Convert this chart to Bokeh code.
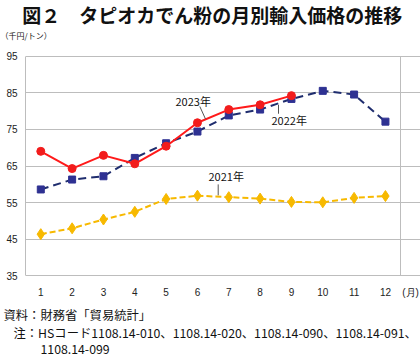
from bokeh.plotting import figure
from bokeh.models import Label, FixedTicker, Range1d
from bokeh.layouts import column
from bokeh.embed import file_html
from bokeh.resources import INLINE

# ---- data ----
months = list(range(1, 13))
month_labels = [str(m) for m in months]
y2023 = [69.0, 64.3, 67.9, 65.6, 70.4, 76.8, 80.4, 81.7, 84.2]
y2022 = [58.6, 61.3, 62.2, 67.2, 71.2, 74.4, 78.8, 80.4, 83.3, 85.5, 84.5, 77.1]
y2021 = [46.4, 48.0, 50.4, 52.5, 56.0, 56.9, 56.5, 56.1, 55.2, 55.1, 56.3, 56.8]
y_ticks = [35, 45, 55, 65, 75, 85, 95]

title_text = "図２　タピオカでん粉の月別輸入価格の推移"
unit_text = "（千円/トン）"
month_unit = "(月)"
month_unit_pos = 12.80
source_text = "資料：財務省「貿易統計」"
note_text1 = "注：HSコード1108.14-010、1108.14-020、1108.14-090、1108.14-091、"
note_text2 = "1108.14-099"

JP = "Noto Sans CJK JP"
NUM = "Liberation Sans"
GRID = "#bdbdbd"
W = 420


def text_panel(h):
    f = figure(width=W, height=h, x_range=Range1d(0, W), y_range=Range1d(0, h),
               x_axis_location=None, y_axis_location=None,
               output_backend="svg", toolbar_location=None, min_border=0)
    f.grid.visible = False
    f.outline_line_color = None
    f.background_fill_color = "white"
    f.border_fill_color = "white"
    f.frame_align = False
    return f


def put(f, x, y, text, size, style="normal"):
    f.add_layout(Label(x=x, y=y, text=text, text_font=JP, text_font_size=size,
                       text_font_style=style, text_align="left", text_baseline="middle",
                       text_color="#111111"))


# ---- header ----
top = text_panel(47)
put(top, 21.7, 33.5, title_text, "19px", style="bold")
put(top, 0, 12, unit_text, "8px")

# ---- main chart ----
x_lo, x_box, x_hi = 0.512, 12.481, 13.119
p = figure(width=W, height=255, x_range=Range1d(x_lo, x_hi), y_range=Range1d(34.85, 95.15),
           output_backend="svg", toolbar_location=None,
           min_border_left=25, min_border_right=0, min_border_top=8, min_border_bottom=26)
p.frame_align = False
p.background_fill_color = "white"
p.border_fill_color = "white"
p.outline_line_color = None

p.xgrid.visible = False
p.ygrid.ticker = FixedTicker(ticks=y_ticks)
p.ygrid.grid_line_color = GRID
p.ygrid.grid_line_width = 1
p.ygrid.bounds = (x_lo, x_box)

tick_pos = months + [month_unit_pos]
p.xaxis.ticker = FixedTicker(ticks=tick_pos)
overrides = {m: l for m, l in zip(months, month_labels)}
overrides[month_unit_pos] = month_unit
p.xaxis.major_label_overrides = overrides
p.yaxis.ticker = FixedTicker(ticks=y_ticks)
p.yaxis.bounds = (y_ticks[0], y_ticks[-1])
for ax in (p.xaxis, p.yaxis):
    ax.major_tick_line_color = None
    ax.minor_tick_line_color = None
    ax.major_tick_out = 0
    ax.major_tick_in = 0
    ax.major_label_text_font = NUM
    ax.major_label_text_font_size = "10px"
    ax.major_label_text_color = "#222222"
p.xaxis.axis_line_color = None
p.yaxis.axis_line_color = GRID
p.xaxis.major_label_standoff = 10
p.yaxis.major_label_standoff = 8

# right border of the plot box
p.segment([x_box], [y_ticks[0]], [x_box], [y_ticks[-1]], line_color=GRID, line_width=1)

# ---- series ----
m21 = months[:len(y2021)]
m22 = months[:len(y2022)]
m23 = months[:len(y2023)]

p.line(m21, y2021, line_color="#f7b900", line_width=2, line_dash="6 3")
p.scatter(m21, y2021, marker="diamond", size=11, fill_color="#f7b900", line_color="#f7b900")

p.line(m22, y2022, line_color="#1f2d6e", line_width=2, line_dash="8 5")
p.scatter(m22, y2022, marker="square", size=7, fill_color="#2e3192", line_color="#2e3192")

p.line(m23, y2023, line_color="#ff1a1a", line_width=2)
p.scatter(m23, y2023, marker="circle", size=8, fill_color="#f21c1c", line_color="#f21c1c")

# ---- leader lines for series labels ----
lead_x0 = [6.075, 8.587, 6.662]
lead_y0 = [81.24, 81.70, 59.98]
lead_x1 = [6.257, 8.587, 6.662]
lead_y1 = [77.82, 79.26, 56.99]
p.segment(lead_x0, lead_y0, lead_x1, lead_y1, line_color="#555555", line_width=1)

put(p, 5.30, 82.79, "2023年", "11px")
put(p, 8.364, 77.55, "2022年", "11px")
put(p, 6.353, 62.15, "2021年", "11px")

# ---- footer ----
foot = text_panel(55)
put(foot, 3, 43, source_text, "12.3px")
put(foot, 13, 25, note_text1, "12.3px")
put(foot, 40, 8, note_text2, "12.3px")

layout = column(top, p, foot, spacing=0)
open("out.html", "w").write(file_html(layout, INLINE))
